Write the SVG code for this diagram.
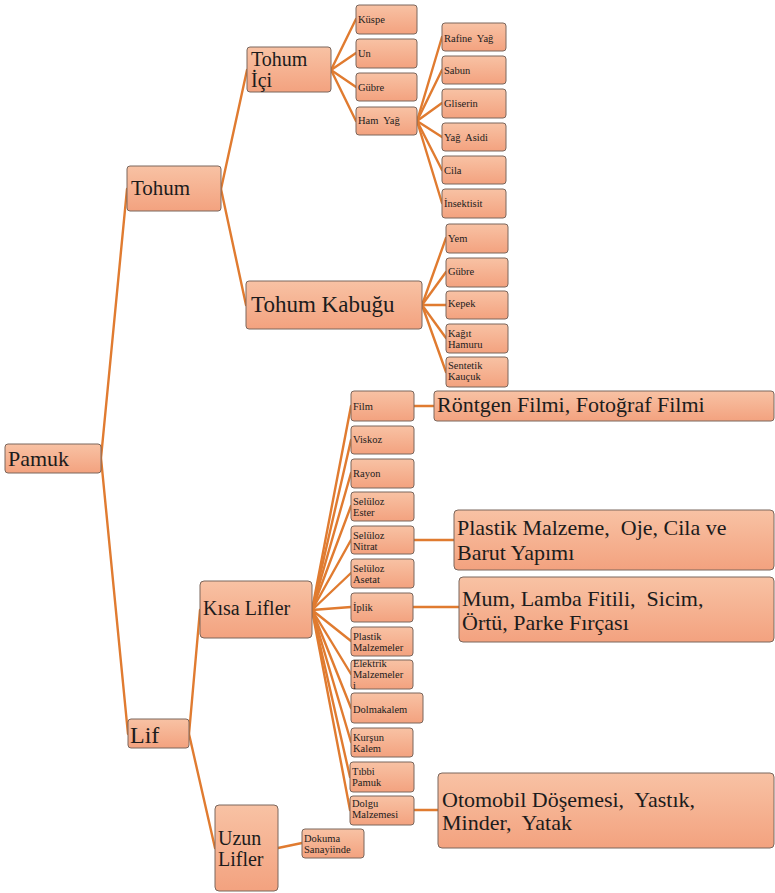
<svg xmlns="http://www.w3.org/2000/svg" width="775" height="893" viewBox="0 0 775 893">
  <style>
    .box { fill: url(#peach); stroke: #7a665c; stroke-width: 1; }
    .conn line { stroke: #e07b30; stroke-width: 2.4; stroke-linecap: round; }
    text { font-family: "Liberation Serif", "Times New Roman", serif; fill: #1c1c1c; }
    .s { font-size: 10.5px; }
    .m { font-size: 20px; }
    .l { font-size: 22px; }
  </style>
  <defs>
    <linearGradient id="peach" x1="0" y1="0" x2="0" y2="1">
      <stop offset="0" stop-color="#f8c2a4"/>
      <stop offset="1" stop-color="#f3a27f"/>
    </linearGradient>
  </defs>
  <rect width="775" height="893" fill="#ffffff"/>

  <!-- connectors: parent right-middle to child left-middle -->
  <g id="connectors" class="conn">
    <line x1="101" y1="458" x2="127" y2="189"/>
    <line x1="101" y1="458" x2="128" y2="734"/>
    <line x1="221" y1="189" x2="247" y2="70"/>
    <line x1="221" y1="189" x2="246" y2="305"/>
    <line x1="331" y1="70" x2="356" y2="19"/>
    <line x1="331" y1="70" x2="356" y2="53"/>
    <line x1="331" y1="70" x2="356" y2="87"/>
    <line x1="331" y1="70" x2="356" y2="121"/>
    <line x1="417" y1="121" x2="442" y2="37"/>
    <line x1="417" y1="121" x2="442" y2="70"/>
    <line x1="417" y1="121" x2="442" y2="103"/>
    <line x1="417" y1="121" x2="442" y2="137"/>
    <line x1="417" y1="121" x2="442" y2="170"/>
    <line x1="417" y1="121" x2="442" y2="203"/>
    <line x1="422" y1="305" x2="446" y2="238"/>
    <line x1="422" y1="305" x2="446" y2="272"/>
    <line x1="422" y1="305" x2="446" y2="305"/>
    <line x1="422" y1="305" x2="446" y2="338"/>
    <line x1="422" y1="305" x2="446" y2="372"/>
    <line x1="189" y1="734" x2="200" y2="610"/>
    <line x1="189" y1="734" x2="215" y2="848"/>
    <line x1="312" y1="610" x2="351" y2="406"/>
    <line x1="312" y1="610" x2="351" y2="440"/>
    <line x1="312" y1="610" x2="351" y2="473"/>
    <line x1="312" y1="610" x2="351" y2="506"/>
    <line x1="312" y1="610" x2="351" y2="540"/>
    <line x1="312" y1="610" x2="351" y2="573"/>
    <line x1="312" y1="610" x2="351" y2="607"/>
    <line x1="312" y1="610" x2="351" y2="641"/>
    <line x1="312" y1="610" x2="351" y2="674"/>
    <line x1="312" y1="610" x2="351" y2="708"/>
    <line x1="312" y1="610" x2="351" y2="742"/>
    <line x1="312" y1="610" x2="350" y2="777"/>
    <line x1="312" y1="610" x2="350" y2="810"/>
    <line x1="278" y1="848" x2="302" y2="843"/>
    <line x1="414" y1="406" x2="434" y2="406"/>
    <line x1="414" y1="540" x2="454" y2="540"/>
    <line x1="413" y1="607" x2="459" y2="607"/>
    <line x1="414" y1="810" x2="438" y2="810"/>
  </g>

  <!-- root -->
  <g id="pamuk"><rect class="box" x="5" y="444" width="96" height="29" rx="3"/><text class="l" x="8" y="466">Pamuk</text></g>

  <!-- seed branch -->
  <g id="tohum"><rect class="box" x="127" y="166" width="94" height="45" rx="3"/><text x="131" y="195" font-size="21">Tohum</text></g>
  <g id="tohum-ici"><rect class="box" x="247" y="47" width="84" height="45" rx="3"/><text class="m" x="251" y="66">Tohum</text><text class="m" x="251" y="87">İçi</text></g>
  <g id="kuspe"><rect class="box" x="356" y="5" width="61" height="29" rx="3"/><text class="s" x="358" y="23">Küspe</text></g>
  <g id="un"><rect class="box" x="356" y="39" width="61" height="29" rx="3"/><text class="s" x="358" y="57">Un</text></g>
  <g id="gubre-ic"><rect class="box" x="356" y="73" width="61" height="28" rx="3"/><text class="s" x="358" y="91">Gübre</text></g>
  <g id="ham-yag"><rect class="box" x="356" y="107" width="61" height="28" rx="3"/><text class="s" x="358" y="124" xml:space="preserve">Ham  Yağ</text></g>
  <g id="rafine-yag"><rect class="box" x="442" y="23" width="64" height="28" rx="3"/><text class="s" x="444" y="42" xml:space="preserve">Rafine  Yağ</text></g>
  <g id="sabun"><rect class="box" x="442" y="56" width="64" height="28" rx="3"/><text class="s" x="444" y="74">Sabun</text></g>
  <g id="gliserin"><rect class="box" x="442" y="89" width="64" height="29" rx="3"/><text class="s" x="444" y="107">Gliserin</text></g>
  <g id="yag-asidi"><rect class="box" x="442" y="123" width="64" height="28" rx="3"/><text class="s" x="444" y="141" xml:space="preserve">Yağ  Asidi</text></g>
  <g id="cila"><rect class="box" x="442" y="156" width="64" height="28" rx="3"/><text class="s" x="444" y="174">Cila</text></g>
  <g id="insektisit"><rect class="box" x="442" y="189" width="64" height="29" rx="3"/><text class="s" x="444" y="207">İnsektisit</text></g>

  <g id="tohum-kabugu"><rect class="box" x="246" y="281" width="176" height="48" rx="3"/><text x="251" y="312" font-size="23">Tohum Kabuğu</text></g>
  <g id="yem"><rect class="box" x="446" y="224" width="62" height="29" rx="3"/><text class="s" x="448" y="242">Yem</text></g>
  <g id="gubre-kabuk"><rect class="box" x="446" y="258" width="62" height="29" rx="3"/><text class="s" x="448" y="275">Gübre</text></g>
  <g id="kepek"><rect class="box" x="446" y="291" width="62" height="28" rx="3"/><text class="s" x="448" y="307">Kepek</text></g>
  <g id="kagit-hamuru"><rect class="box" x="446" y="324" width="62" height="29" rx="3"/><text class="s" x="448" y="337">Kağıt</text><text class="s" x="448" y="348">Hamuru</text></g>
  <g id="sentetik-kaucuk"><rect class="box" x="446" y="357" width="62" height="30" rx="3"/><text class="s" x="448" y="369">Sentetik</text><text class="s" x="448" y="380">Kauçuk</text></g>

  <!-- fibre branch -->
  <g id="lif"><rect class="box" x="128" y="719" width="61" height="29" rx="3"/><text x="130" y="743" font-size="24">Lif</text></g>
  <g id="kisa-lifler"><rect class="box" x="200" y="581" width="112" height="57" rx="4"/><text class="m" x="203" y="615">Kısa Lifler</text></g>
  <g id="uzun-lifler"><rect class="box" x="215" y="805" width="63" height="86" rx="4"/><text class="m" x="218" y="845">Uzun</text><text class="m" x="218" y="866">Lifler</text></g>

  <g id="film"><rect class="box" x="351" y="391" width="63" height="30" rx="3"/><text class="s" x="353" y="410">Film</text></g>
  <g id="viskoz"><rect class="box" x="351" y="426" width="63" height="28" rx="3"/><text class="s" x="353" y="443">Viskoz</text></g>
  <g id="rayon"><rect class="box" x="351" y="459" width="63" height="29" rx="3"/><text class="s" x="353" y="477">Rayon</text></g>
  <g id="seluloz-ester"><rect class="box" x="351" y="492" width="63" height="29" rx="3"/><text class="s" x="353" y="505">Selüloz</text><text class="s" x="353" y="516">Ester</text></g>
  <g id="seluloz-nitrat"><rect class="box" x="351" y="526" width="63" height="28" rx="3"/><text class="s" x="353" y="539">Selüloz</text><text class="s" x="353" y="550">Nitrat</text></g>
  <g id="seluloz-asetat"><rect class="box" x="351" y="559" width="63" height="29" rx="3"/><text class="s" x="353" y="572">Selüloz</text><text class="s" x="353" y="583">Asetat</text></g>
  <g id="iplik"><rect class="box" x="351" y="593" width="62" height="29" rx="3"/><text class="s" x="353" y="611">İplik</text></g>
  <g id="plastik-malzemeler"><rect class="box" x="351" y="627" width="62" height="29" rx="3"/><text class="s" x="353" y="640">Plastik</text><text class="s" x="353" y="651">Malzemeler</text></g>
  <g id="elektrik-malzemeleri"><rect class="box" x="351" y="660" width="62" height="29" rx="3"/><text class="s" x="353" y="667">Elektrik</text><text class="s" x="353" y="678">Malzemeler</text><text class="s" x="353" y="689">i</text></g>
  <g id="dolmakalem"><rect class="box" x="351" y="693" width="72" height="30" rx="3"/><text class="s" x="353" y="713">Dolmakalem</text></g>
  <g id="kursun-kalem"><rect class="box" x="351" y="728" width="62" height="29" rx="3"/><text class="s" x="353" y="741">Kurşun</text><text class="s" x="353" y="752">Kalem</text></g>
  <g id="tibbi-pamuk"><rect class="box" x="350" y="762" width="64" height="30" rx="3"/><text class="s" x="352" y="775">Tıbbi</text><text class="s" x="352" y="786">Pamuk</text></g>
  <g id="dolgu-malzemesi"><rect class="box" x="350" y="796" width="64" height="29" rx="3"/><text class="s" x="352" y="807">Dolgu</text><text class="s" x="352" y="818">Malzemesi</text></g>
  <g id="dokuma-sanayiinde"><rect class="box" x="302" y="829" width="62" height="29" rx="3"/><text class="s" x="304" y="842">Dokuma</text><text class="s" x="304" y="853">Sanayiinde</text></g>

  <!-- uses -->
  <g id="rontgen-fotograf"><rect class="box" x="434" y="391" width="340" height="30" rx="3"/><text class="l" x="437" y="412">Röntgen Filmi, Fotoğraf Filmi</text></g>
  <g id="plastik-oje-cila"><rect class="box" x="454" y="510" width="320" height="60" rx="4"/><text class="l" x="457" y="535" xml:space="preserve">Plastik Malzeme,  Oje, Cila ve</text><text class="l" x="457" y="560">Barut Yapımı</text></g>
  <g id="mum-lamba"><rect class="box" x="459" y="577" width="315" height="65" rx="4"/><text class="l" x="462" y="606" xml:space="preserve">Mum, Lamba Fitili,  Sicim,</text><text class="l" x="462" y="630">Örtü, Parke Fırçası</text></g>
  <g id="otomobil-doseme"><rect class="box" x="438" y="773" width="336" height="75" rx="4"/><text class="l" x="442" y="807" xml:space="preserve">Otomobil Döşemesi,  Yastık,</text><text class="l" x="442" y="830" xml:space="preserve">Minder,  Yatak</text></g>
</svg>
